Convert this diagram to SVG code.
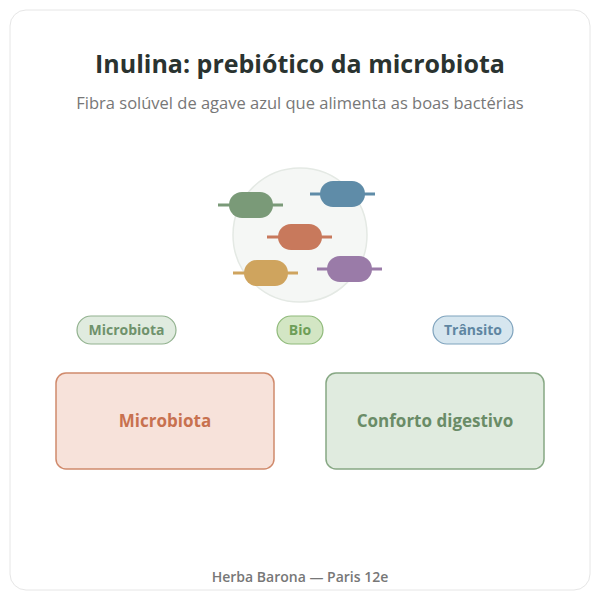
<svg xmlns="http://www.w3.org/2000/svg" width="600" height="600" viewBox="0 0 600 600">
<style>
text{font-family:"Open Sans","Noto Sans",sans-serif;text-anchor:middle}
.b{stroke-width:3}
.pill{stroke-width:1.2}
.pt{font-size:14px;font-weight:700}
.bt{font-size:17px;font-weight:700}
</style>
<rect x="10" y="10" width="580" height="580" rx="16" fill="#fff" stroke="#e6e6e6"/>
<text x="300" y="73" font-size="25" font-weight="700" fill="#2a3330">Inulina: prebiótico da microbiota</text>
<text x="300" y="109" font-size="16.5" fill="#777">Fibra solúvel de agave azul que alimenta as boas bactérias</text>
<g id="illustration">
<circle cx="300" cy="235" r="67" fill="#f5f7f5" stroke="#e4e9e4" stroke-width="1.5"/>
<g id="bac-green"><line x1="218" y1="205" x2="283" y2="205" stroke="#7a9a78" class="b"/><rect x="229" y="192" width="44" height="26" rx="13" fill="#7a9a78"/></g>
<g id="bac-blue"><line x1="310" y1="194" x2="375" y2="194" stroke="#5f8ca8" class="b"/><rect x="320" y="181" width="45" height="26" rx="13" fill="#5f8ca8"/></g>
<g id="bac-orange"><line x1="267" y1="237" x2="332" y2="237" stroke="#c8795c" class="b"/><rect x="278" y="224" width="44" height="26" rx="13" fill="#c8795c"/></g>
<g id="bac-yellow"><line x1="233" y1="273" x2="298" y2="273" stroke="#cfa45e" class="b"/><rect x="244" y="260" width="44" height="26" rx="13" fill="#cfa45e"/></g>
<g id="bac-purple"><line x1="317" y1="269" x2="382" y2="269" stroke="#9a7ba8" class="b"/><rect x="327" y="256" width="45" height="26" rx="13" fill="#9a7ba8"/></g>
</g>
<g id="connectors"></g>
<g id="tag-microbiota"><rect x="77" y="316" width="99" height="28" rx="14" fill="#e0ebdf" stroke="#92b28f" class="pill"/><text x="126.5" y="335" class="pt" fill="#6f926c">Microbiota</text></g>
<g id="tag-bio"><rect x="277" y="316" width="46" height="28" rx="14" fill="#d3e6c4" stroke="#8fba7a" class="pill"/><text x="300" y="335" class="pt" fill="#6e9e58">Bio</text></g>
<g id="tag-transito"><rect x="433" y="316" width="80" height="28" rx="14" fill="#d6e6ef" stroke="#7fa3bd" class="pill"/><text x="473" y="335" class="pt" fill="#5f86a2">Trânsito</text></g>
<g id="box-microbiota"><rect x="56" y="373" width="218" height="96" rx="10" fill="#f7e2da" stroke="#d08a6c" stroke-width="1.5"/><text x="165" y="427" class="bt" fill="#c8714f">Microbiota</text></g>
<g id="box-conforto"><rect x="326" y="373" width="218" height="96" rx="10" fill="#e0ebdf" stroke="#87a884" stroke-width="1.5"/><text x="435" y="427" class="bt" fill="#6a8c67">Conforto digestivo</text></g>
<text x="300" y="582" font-size="14" font-weight="600" fill="#777">Herba Barona — Paris 12e</text>
</svg>
